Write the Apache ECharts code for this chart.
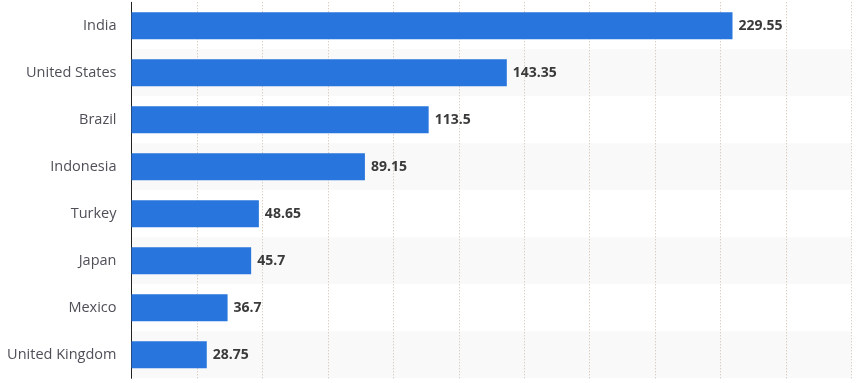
<!DOCTYPE html>
<html>
<head>
<meta charset="utf-8">
<script src="https://cdn.jsdelivr.net/npm/echarts@6/dist/echarts.min.js"></script>
<style>
html,body{margin:0;padding:0;background:#fff;}
#chart{width:866px;height:383px;}
</style>
</head>
<body>
<div id="chart"></div>
<script>
const categories = ["India", "United States", "Brazil", "Indonesia", "Turkey", "Japan", "Mexico", "United Kingdom"];
const values = [229.55, 143.35, 113.5, 89.15, 48.65, 45.7, 36.7, 28.75];
const axisMin = 0;
const axisMax = 275;
const axisStep = 25;

const chart = echarts.init(document.getElementById('chart'), null, {renderer: 'canvas'});
chart.setOption({
  animation: false,
  backgroundColor: '#ffffff',
  grid: {left: 131.5, right: 14.5, top: 2.3, bottom: 4.7, containLabel: false},
  xAxis: {
    type: 'value',
    min: axisMin, max: axisMax, interval: axisStep,
    axisLabel: {show: false},
    axisLine: {show: false},
    axisTick: {show: false},
    splitLine: {show: true, lineStyle: {type: [1, 2], color: '#cdbcab', width: 1}}
  },
  yAxis: {
    type: 'category',
    data: categories,
    inverse: true,
    axisLine: {show: true, lineStyle: {color: '#222', width: 1}},
    axisTick: {show: false},
    axisLabel: {color: '#4f4f58', fontFamily: 'Open Sans', fontSize: 14.5, margin: 15},
    splitArea: {show: true, areaStyle: {color: ['#ffffff', '#f9f9f9']}}
  },
  series: [{
    type: 'bar',
    data: values,
    barWidth: 27,
    itemStyle: {color: '#2876dd'},
    label: {
      show: true, position: 'right', distance: 6,
      color: '#3a3a3a', fontFamily: 'Open Sans', fontWeight: 'bold', fontSize: 14
    }
  }]
});
</script>
</body>
</html>
